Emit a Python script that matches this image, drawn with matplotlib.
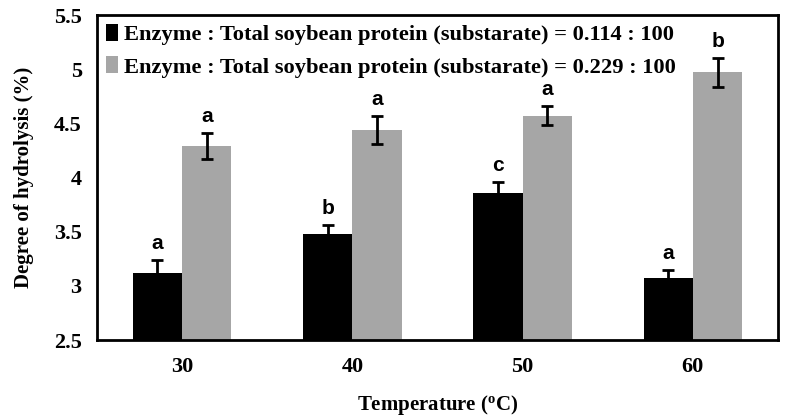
import matplotlib
matplotlib.use("Agg")
import matplotlib.pyplot as plt
import numpy as np

categories = ["30", "40", "50", "60"]
low_vals = [3.12, 3.475, 3.86, 3.07]
low_err = [0.12, 0.085, 0.095, 0.075]
high_vals = [4.29, 4.44, 4.57, 4.97]
high_err = [0.12, 0.13, 0.09, 0.135]
low_letters = ["a", "b", "c", "a"]
high_letters = ["a", "a", "a", "b"]
series_labels = ["Enzyme : Total soybean protein (substarate) = 0.114 : 100",
                 "Enzyme : Total soybean protein (substarate) = 0.229 : 100"]
yticks = [2.5, 3, 3.5, 4, 4.5, 5, 5.5]

plt.rcParams['mathtext.fontset'] = 'custom'
plt.rcParams['mathtext.rm'] = 'Liberation Serif'
plt.rcParams['mathtext.bf'] = 'Liberation Serif:bold'

serif = 'Liberation Serif'
fig = plt.figure(figsize=(7.85, 4.2), dpi=100)
ax = fig.add_axes([97/785, 1-340/420, (778-97)/785, (340-15)/420])

x = np.arange(len(categories))
w = 0.29
gray = '#a6a6a6'
ax.bar(x - w/2, low_vals, w, bottom=0, color='black', label=series_labels[0],
       yerr=low_err, error_kw=dict(ecolor='black', elinewidth=2, capsize=4, capthick=2))
ax.bar(x + w/2, high_vals, w, color=gray, label=series_labels[1],
       yerr=high_err, error_kw=dict(ecolor='black', elinewidth=2, capsize=4, capthick=2))

for i in range(len(categories)):
    ax.annotate(low_letters[i], (x[i] - w/2, low_vals[i] + low_err[i]), xytext=(0, 5),
                textcoords='offset points', ha='center', va='bottom',
                fontsize=15, fontweight='bold', family='Liberation Sans')
    ax.annotate(high_letters[i], (x[i] + w/2, high_vals[i] + high_err[i]), xytext=(0, 5),
                textcoords='offset points', ha='center', va='bottom',
                fontsize=15, fontweight='bold', family='Liberation Sans')

ax.set_xlim(-0.5, 3.5)
ax.set_ylim(2.5, 5.5)
ax.set_yticks(yticks)
ax.set_yticklabels([f"{v:g}" for v in yticks], family=serif, fontweight='bold', fontsize=16)
ax.set_xticks(x)
ax.set_xticklabels(categories, family=serif, fontweight='bold', fontsize=16)
ax.tick_params(axis='x', length=0, pad=12)
ax.tick_params(axis='y', length=0, pad=11)
for s in ax.spines.values():
    s.set_linewidth(2)

ax.set_ylabel("Degree of hydrolysis (%)", family=serif, fontweight='bold', fontsize=15, labelpad=14)
ax.set_xlabel(r"Temperature ($\mathbf{^{o}}$C)", family=serif, fontweight='bold', fontsize=15, labelpad=12)

leg = ax.legend(loc='upper left', frameon=False, prop=dict(family=serif, weight='bold', size=16.2),
                handlelength=0.55, handleheight=0.8, handletextpad=0.25, labelspacing=0.48,
                borderaxespad=0.0, borderpad=0.4, bbox_to_anchor=(0.0, 1.0))
fig.savefig("out.png", dpi=100)
